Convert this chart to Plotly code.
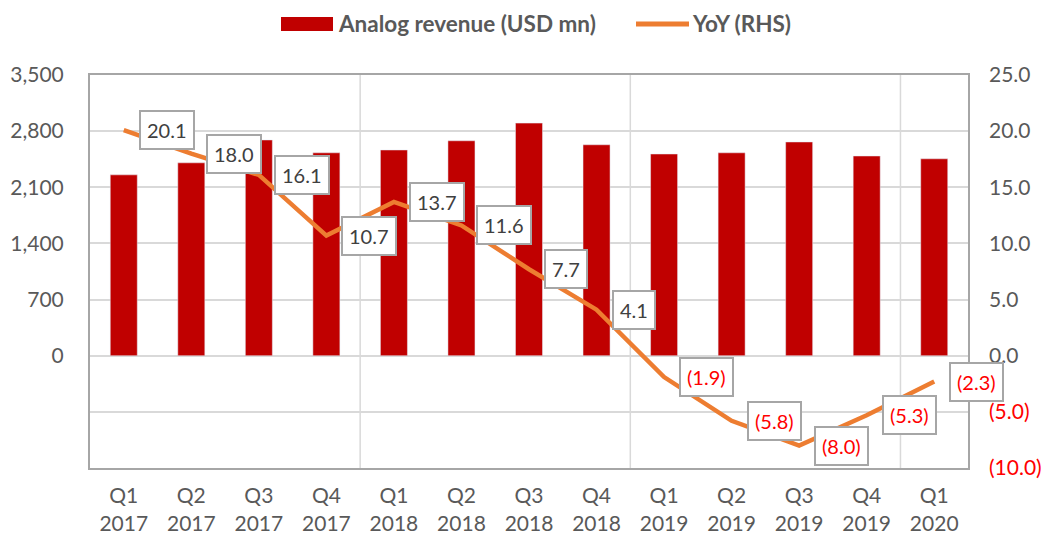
import plotly.graph_objects as go

quarters = ["Q1<br>2017", "Q2<br>2017", "Q3<br>2017", "Q4<br>2017",
            "Q1<br>2018", "Q2<br>2018", "Q3<br>2018", "Q4<br>2018",
            "Q1<br>2019", "Q2<br>2019", "Q3<br>2019", "Q4<br>2019",
            "Q1<br>2020"]
revenue = [2255, 2405, 2690, 2530, 2565, 2680, 2900, 2630, 2515, 2530, 2665, 2490, 2455]
yoy = [20.1, 18.0, 16.1, 10.7, 13.7, 11.6, 7.7, 4.1, -1.9, -5.8, -8.0, -5.3, -2.3]

left_ticks = [-700, 0, 700, 1400, 2100, 2800, 3500]
left_text = ["", "0", "700", "1,400", "2,100", "2,800", "3,500"]
right_ticks = [-10, -5, 0, 5, 10, 15, 20, 25]
right_text = ["<span style='color:#FF0000'>(10.0)</span>",
              "<span style='color:#FF0000'>(5.0)</span>",
              "0.0", "5.0", "10.0", "15.0", "20.0", "25.0"]

FONT = "Lato, Open Sans, sans-serif"
GRAY = "#595959"
BORDER = "#A6A6A6"
GRID = "#D9D9D9"
BAR_COLOR = "#C00000"
LINE_COLOR = "#ED7D31"

# page has an 8px body margin; work in screen pixels and convert
OFF = 8
W, H = 1060, 540
L, R, T, B = 90 - OFF, 968 - OFF, 75 - OFF, 468 - OFF


def px(x):
    return (x - OFF - L) / (R - L)


def py(y):
    return (B - (y - OFF)) / (B - T)


fig = go.Figure()
fig.add_trace(go.Bar(x=quarters, y=revenue, name="Analog revenue (USD mn)",
                     marker_color=BAR_COLOR, width=0.4, yaxis="y"))
fig.add_trace(go.Scatter(x=quarters, y=yoy, name="YoY (RHS)", mode="lines",
                         line=dict(color=LINE_COLOR, width=4.5), yaxis="y2"))


def fmt(v):
    return f"{v:.1f}" if v >= 0 else f"({abs(v):.1f})"


for q, v in zip(quarters, yoy):
    fig.add_annotation(x=q, y=v, xref="x", yref="y2", text=fmt(v),
                       showarrow=False, xanchor="left", yanchor="middle",
                       xshift=15, bgcolor="white", bordercolor=BORDER,
                       borderwidth=2, borderpad=6,
                       font=dict(family=FONT, size=20,
                                 color="#404040" if v >= 0 else "#FF0000"))

for xv in [3.5, 7.5, 11.5]:
    fig.add_shape(type="line", xref="x", yref="paper", x0=xv, x1=xv, y0=0, y1=1,
                  line=dict(color=GRID, width=1.5), layer="below")

# manual legend (screen pixel positions)
fig.add_shape(type="rect", xref="paper", yref="paper",
              x0=px(281), x1=px(333), y0=py(31), y1=py(17),
              fillcolor=BAR_COLOR, line=dict(width=0))
fig.add_annotation(xref="paper", yref="paper", x=px(336), y=py(24),
                   text="<b>Analog revenue (USD mn)</b>", showarrow=False,
                   xanchor="left", yanchor="middle",
                   font=dict(family=FONT, size=22.5, color=GRAY))
fig.add_shape(type="line", xref="paper", yref="paper",
              x0=px(636), x1=px(689), y0=py(24), y1=py(24),
              line=dict(color=LINE_COLOR, width=5))
fig.add_annotation(xref="paper", yref="paper", x=px(690), y=py(24),
                   text="<b>YoY (RHS)</b>", showarrow=False,
                   xanchor="left", yanchor="middle",
                   font=dict(family=FONT, size=22.5, color=GRAY))

fig.update_layout(
    width=W, height=H,
    margin=dict(l=L, r=W - R, t=T, b=H - B, autoexpand=False),
    paper_bgcolor="white", plot_bgcolor="white",
    font=dict(family=FONT, size=21, color=GRAY),
    showlegend=False,
    bargap=0.6,
    xaxis=dict(range=[-0.5, len(quarters) - 0.5], showgrid=False, showline=True,
               mirror=True, linecolor=BORDER, linewidth=2, ticks="",
               ticklabelstandoff=8, automargin=False,
               tickfont=dict(family=FONT, size=21, color=GRAY)),
    yaxis=dict(range=[-1400, 3500], tickvals=left_ticks, ticktext=left_text,
               showgrid=True, gridcolor=GRID, gridwidth=1.5, zeroline=False,
               showline=True, mirror=True, linecolor=BORDER, linewidth=2,
               ticks="", ticklabelstandoff=20, automargin=False,
               tickfont=dict(family=FONT, size=21, color=GRAY)),
    yaxis2=dict(range=[-10, 25], tickvals=right_ticks, ticktext=right_text,
                overlaying="y", side="right", showgrid=False, zeroline=False,
                ticks="", ticklabelstandoff=20, automargin=False,
                tickfont=dict(family=FONT, size=21, color=GRAY)),
)

fig.write_html("out.html")
